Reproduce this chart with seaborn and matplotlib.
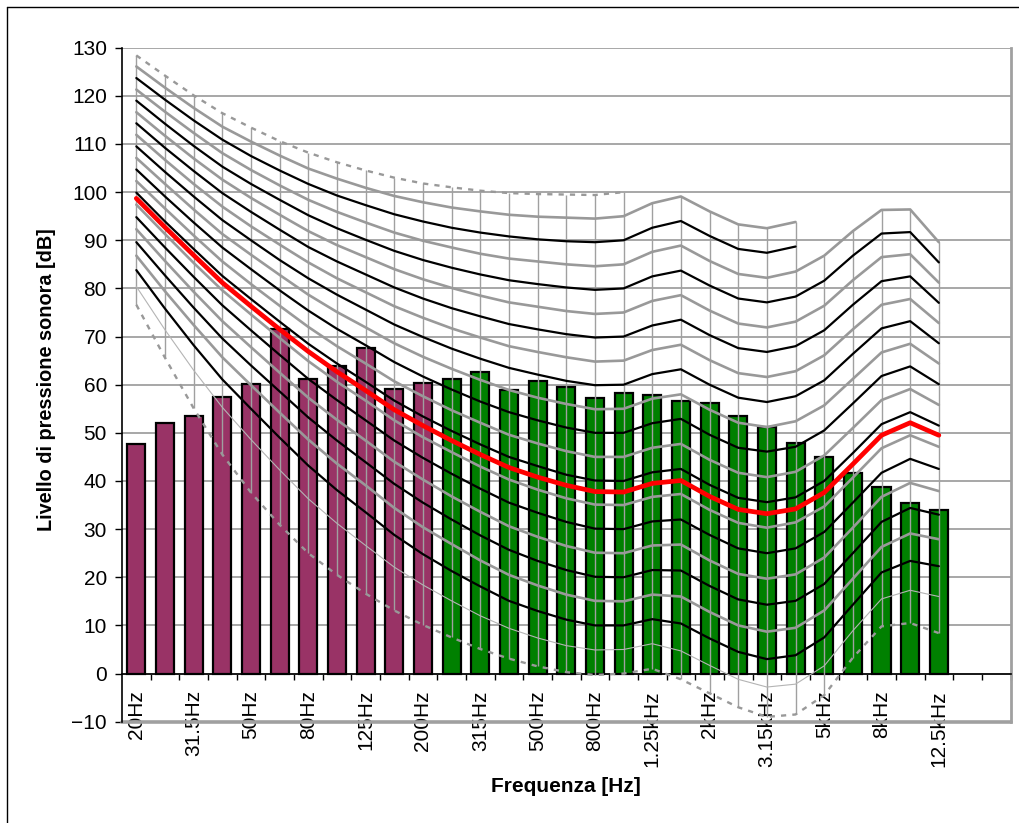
import numpy as np
import pandas as pd
import matplotlib
matplotlib.use("Agg")
import matplotlib.pyplot as plt
from matplotlib.lines import Line2D
import seaborn as sns

# ---------------- data ----------------
bands = ["20Hz", "25Hz", "31.5Hz", "40Hz", "50Hz", "63Hz", "80Hz", "100Hz", "125Hz",
         "160Hz", "200Hz", "250Hz", "315Hz", "400Hz", "500Hz", "630Hz", "800Hz", "1kHz",
         "1.25kHz", "1.6kHz", "2kHz", "2.5kHz", "3.15kHz", "4kHz", "5kHz", "6.3kHz",
         "8kHz", "10kHz", "12.5kHz", "16kHz", "20kHz"]
shown_labels = ["20Hz", "31.5Hz", "50Hz", "80Hz", "125Hz", "200Hz", "315Hz", "500Hz",
                "800Hz", "1.25kHz", "2kHz", "3.15kHz", "5kHz", "8kHz", "12.5kHz"]

bar_values = [47.6, 52.0, 53.6, 57.4, 60.2, 71.6, 61.2, 63.8, 67.6, 59.2, 60.3,
              61.1, 62.6, 58.9, 60.8, 59.6, 57.3, 58.3, 57.8, 56.6, 56.1, 53.6,
              51.3, 47.8, 45.0, 41.7, 38.8, 35.4, 34.0]
bar_group = ["bassa"] * 11 + ["alta"] * 18

# equal-loudness contours (dB) read per band
phon_0 = [76.6, 65.6, 55.1, 45.5, 37.6, 30.9, 25.0, 20.5, 16.6, 13.1, 10.1, 7.5, 5.1, 3.1, 1.5, 0.3, -0.3, 0.0, 1.0, -1.2, -4.1, -7.0, -9.0, -8.5, -4.5, 3.3, 9.8, 10.5, 8.4]
phon_5 = [80.4, 71.4, 63.0, 55.3, 48.6, 42.3, 36.3, 31.2, 26.6, 22.1, 18.4, 15.1, 12.0, 9.4, 7.4, 5.8, 4.9, 5.0, 6.2, 4.7, 1.7, -1.2, -2.8, -2.2, 1.6, 8.9, 15.5, 17.3, 16.0]
phon_10 = [83.8, 75.8, 68.2, 61.1, 55.0, 49.0, 43.2, 38.1, 33.5, 28.8, 24.8, 21.3, 18.1, 15.1, 13.0, 11.2, 10.0, 10.0, 11.3, 10.4, 7.3, 4.5, 3.0, 3.8, 7.5, 14.3, 21.0, 23.4, 22.3]
phon_15 = [86.8, 79.4, 72.4, 65.7, 59.9, 54.2, 48.6, 43.6, 39.1, 34.4, 30.4, 26.9, 23.5, 20.5, 18.3, 16.4, 15.1, 15.0, 16.4, 16.0, 12.8, 10.0, 8.7, 9.5, 13.1, 19.7, 26.3, 29.1, 27.9]
phon_20 = [89.6, 82.7, 76.0, 69.6, 64.0, 58.6, 53.2, 48.4, 43.9, 39.4, 35.5, 32.0, 28.7, 25.7, 23.4, 21.5, 20.1, 20.0, 21.5, 21.4, 18.2, 15.4, 14.3, 15.1, 18.6, 25.0, 31.5, 34.4, 33.0]
phon_25 = [92.3, 85.7, 79.3, 73.2, 67.8, 62.5, 57.3, 52.7, 48.4, 44.0, 40.3, 36.8, 33.6, 30.6, 28.4, 26.5, 25.1, 25.0, 26.6, 26.8, 23.5, 20.7, 19.7, 20.6, 24.1, 30.3, 36.7, 39.6, 37.9]
phon_30 = [94.8, 88.5, 82.4, 76.5, 71.3, 66.2, 61.2, 56.8, 52.6, 48.4, 44.8, 41.5, 38.4, 35.5, 33.4, 31.5, 30.1, 30.0, 31.6, 32.0, 28.8, 26.0, 25.0, 26.0, 29.4, 35.5, 41.7, 44.6, 42.5]
phon_35 = [97.4, 91.3, 85.3, 79.6, 74.6, 69.7, 64.9, 60.6, 56.7, 52.6, 49.1, 46.0, 43.0, 40.3, 38.2, 36.4, 35.1, 35.0, 36.7, 37.3, 34.0, 31.3, 30.3, 31.4, 34.7, 40.7, 46.8, 49.5, 47.1]
phon_40 = [99.9, 93.9, 88.2, 82.6, 77.8, 73.1, 68.5, 64.4, 60.6, 56.7, 53.4, 50.4, 47.6, 45.0, 43.1, 41.3, 40.1, 40.0, 41.8, 42.5, 39.2, 36.5, 35.6, 36.6, 40.0, 45.8, 51.8, 54.3, 51.5]
phon_45 = [102.3, 96.6, 91.0, 85.6, 80.9, 76.4, 72.0, 68.0, 64.4, 60.7, 57.6, 54.7, 52.1, 49.6, 47.8, 46.2, 45.0, 45.0, 46.9, 47.7, 44.4, 41.7, 40.8, 41.9, 45.3, 51.0, 56.8, 59.1, 55.8]
phon_50 = [104.7, 99.1, 93.7, 88.5, 84.0, 79.6, 75.4, 71.6, 68.2, 64.7, 61.7, 59.0, 56.5, 54.3, 52.6, 51.1, 50.0, 50.0, 52.0, 52.9, 49.6, 46.9, 46.1, 47.1, 50.5, 56.1, 61.8, 63.8, 60.1]
phon_55 = [107.1, 101.7, 96.4, 91.3, 87.0, 82.8, 78.7, 75.1, 71.9, 68.6, 65.8, 63.3, 61.0, 58.9, 57.3, 56.0, 54.9, 55.0, 57.1, 58.0, 54.8, 52.1, 51.2, 52.4, 55.7, 61.2, 66.7, 68.5, 64.4]
phon_60 = [109.5, 104.2, 99.1, 94.2, 90.0, 85.9, 82.1, 78.7, 75.6, 72.5, 69.9, 67.5, 65.4, 63.5, 62.1, 60.8, 59.9, 60.0, 62.2, 63.2, 60.0, 57.3, 56.4, 57.6, 60.9, 66.4, 71.7, 73.2, 68.6]
phon_65 = [111.9, 106.7, 101.7, 97.0, 92.9, 89.1, 85.4, 82.1, 79.2, 76.3, 73.9, 71.7, 69.8, 68.0, 66.8, 65.7, 64.8, 65.0, 67.2, 68.3, 65.1, 62.4, 61.6, 62.8, 66.1, 71.5, 76.6, 77.8, 72.8]
phon_70 = [114.3, 109.2, 104.4, 99.8, 95.9, 92.2, 88.6, 85.6, 82.9, 80.2, 77.9, 75.9, 74.2, 72.6, 71.5, 70.5, 69.8, 70.0, 72.3, 73.5, 70.3, 67.6, 66.8, 68.0, 71.3, 76.6, 81.5, 82.5, 77.0]
phon_75 = [116.6, 111.7, 107.0, 102.6, 98.8, 95.3, 91.9, 89.0, 86.5, 84.0, 81.9, 80.1, 78.5, 77.1, 76.2, 75.3, 74.7, 75.0, 77.4, 78.6, 75.4, 72.7, 71.9, 73.1, 76.4, 81.7, 86.5, 87.1, 81.2]
phon_80 = [119.0, 114.2, 109.6, 105.3, 101.7, 98.4, 95.2, 92.5, 90.1, 87.8, 85.9, 84.3, 82.9, 81.7, 80.9, 80.2, 79.7, 80.0, 82.5, 83.7, 80.6, 77.9, 77.1, 78.3, 81.6, 86.8, 91.4, 91.7, 85.4]
phon_85 = [121.3, 116.7, 112.3, 108.1, 104.6, 101.4, 98.4, 95.9, 93.7, 91.6, 89.9, 88.5, 87.2, 86.2, 85.6, 85.0, 84.6, 85.0, 87.6, 88.9, 85.7, 83.0, 82.2, 83.5, 86.8, 91.9, 96.3, 96.4, 89.6]
phon_90 = [123.7, 119.2, 114.9, 110.9, 107.5, 104.5, 101.7, 99.3, 97.3, 95.4, 93.9, 92.6, 91.6, 90.8, 90.2, 89.8, 89.6, 90.0, 92.6, 94.0, 90.9, 88.2, 87.4, 88.7]
phon_95 = [126.1, 121.7, 117.5, 113.6, 110.5, 107.6, 104.9, 102.8, 100.9, 99.2, 97.9, 96.8, 96.0, 95.3, 94.9, 94.7, 94.5, 95.0, 97.7, 99.1, 96.0, 93.3, 92.5, 93.8]
phon_100 = [128.4, 124.2, 120.1, 116.4, 113.4, 110.6, 108.2, 106.2, 104.5, 103.0, 101.8, 101.0, 100.3, 99.8, 99.6, 99.5, 99.4, 100.0]
red_curve = [98.7, 92.7, 86.9, 81.2, 76.3, 71.5, 66.9, 62.7, 58.8, 54.8, 51.5, 48.4, 45.5, 42.8, 40.8, 39.1, 37.8, 37.7, 39.5, 40.1, 36.8, 34.1, 33.2, 34.2, 37.6, 43.5, 49.5, 52.1, 49.5]

contours = {0: phon_0, 5: phon_5, 10: phon_10, 15: phon_15, 20: phon_20, 25: phon_25,
            30: phon_30, 35: phon_35, 40: phon_40, 45: phon_45, 50: phon_50, 55: phon_55,
            60: phon_60, 65: phon_65, 70: phon_70, 75: phon_75, 80: phon_80, 85: phon_85,
            90: phon_90, 95: phon_95, 100: phon_100}

# ---------------- figure ----------------
sns.set_theme(style="white")
plt.rcParams["font.family"] = ["Liberation Sans", "DejaVu Sans"]
plt.rcParams["text.color"] = "black"
plt.rcParams["xtick.color"] = "black"
plt.rcParams["ytick.color"] = "black"
plt.rcParams["axes.labelcolor"] = "black"
W, H = 1019, 823
fig = plt.figure(figsize=(W / 100, H / 100), dpi=100)
x0, x1, ytop, ybot = 122, 1010.5, 47.7, 721.7
ax = fig.add_axes([x0 / W, 1 - ybot / H, (x1 - x0) / W, (ybot - ytop) / H])

df = pd.DataFrame({"band": bands[:len(bar_values)], "level": bar_values, "group": bar_group})
sns.barplot(data=df, x="band", y="level", hue="group", order=bands,
            palette={"bassa": "#993366", "alta": "#008000"}, dodge=False, saturation=1,
            width=0.63, edgecolor="black", linewidth=1.6, legend=False, ax=ax, zorder=2)

gray = "#999999"
for Ln, vals in contours.items():
    idx = np.arange(len(vals))
    if Ln in (0, 100):
        kw = dict(color=gray, lw=1.7, ls=(0, (2.2, 2.6)))
    elif Ln == 5:
        kw = dict(color="#b4b4b4", lw=0.8)
    elif Ln % 10 == 0:
        kw = dict(color="black", lw=1.6)
    else:
        kw = dict(color=gray, lw=1.9)
    sns.lineplot(x=idx, y=vals, ax=ax, sort=False, estimator=None, zorder=4, **kw)
sns.lineplot(x=np.arange(len(red_curve)), y=red_curve, ax=ax, sort=False, estimator=None,
             color="#ff0000", lw=3.4, zorder=5)

# high-low lines between highest and lowest contour of each band
n = len(bar_values)
hi = [max(v[i] for v in contours.values() if i < len(v)) for i in range(n)]
lo = [min(v[i] for v in contours.values() if i < len(v)) for i in range(n)]
ax.vlines(np.arange(n), lo, hi, color="#a0a0a0", lw=1.0, zorder=3)

ax.set_xlim(-0.5, len(bands) - 0.5)
ax.set_ylim(-10, 130)
ax.set_yticks(np.arange(-10, 131, 10))
ax.yaxis.grid(True, color="#a0a0a0", lw=1.3, zorder=0)
ax.xaxis.grid(False)
ax.set_axisbelow(True)
ax.axhline(-10, color="#a0a0a0", lw=2.6, clip_on=False, zorder=1)

ax.spines["bottom"].set_position(("data", 0))
ax.spines["bottom"].set_color("black")
ax.spines["bottom"].set_linewidth(1.2)
ax.spines["left"].set_color("black")
ax.spines["left"].set_linewidth(1.2)
ax.spines["top"].set_visible(False)
ax.spines["right"].set_color("#a0a0a0")
ax.spines["right"].set_linewidth(2.0)

ax.set_xticks([bands.index(b) for b in shown_labels])
ax.set_xticklabels(shown_labels, rotation=90, fontsize=15)
ax.set_xticks(np.arange(0.5, len(bands), 1), minor=True)
ax.tick_params(axis="x", which="major", length=0, pad=12, labelcolor="black")
ax.tick_params(axis="x", which="minor", length=4.5, width=1, color="black", direction="out", bottom=True)
ax.tick_params(axis="y", which="major", length=4.8, width=1, color="black", direction="out",
               left=True, labelsize=15, pad=6, labelcolor="black")
ax.set_xlabel("")
ax.set_ylabel("")

fig.text(566 / W, 1 - 787 / H, "Frequenza [Hz]", ha="center", va="center",
         fontsize=15, fontweight="bold", color="black")
fig.text(47 / W, 1 - 380 / H, "Livello di pressione sonora [dB]", ha="center", va="center",
         rotation=90, fontsize=14.3, fontweight="bold", color="black")

fig.add_artist(Line2D([7 / W, 7 / W], [0, 1 - 7 / H], color="black", lw=1.0, transform=fig.transFigure))
fig.add_artist(Line2D([7 / W, 1], [1 - 7 / H, 1 - 7 / H], color="black", lw=1.0, transform=fig.transFigure))

fig.savefig("out.png", dpi=100)
